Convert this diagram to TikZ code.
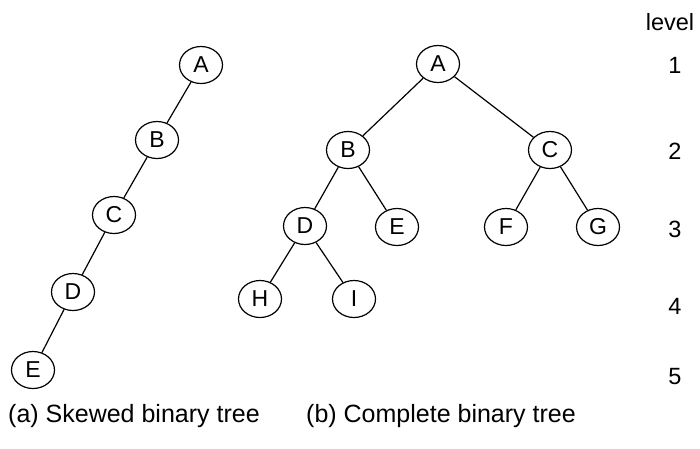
\documentclass[tikz,border=0pt]{standalone}
\usepackage{fontspec}
\setmainfont{Liberation Sans}
\usetikzlibrary{shapes.geometric}
\tikzset{
  tn/.style={ellipse, draw=black, line width=1.2pt, minimum width=43pt, minimum height=37pt, inner sep=0pt, font=\fontsize{23}{23}\selectfont},
  edge/.style={draw=black, line width=1.2pt},
  lvl/.style={font=\fontsize{23.5}{23.5}\selectfont, inner sep=0pt},
  captxt/.style={font=\fontsize{25}{25}\selectfont, inner sep=0pt, anchor=base west}
}
\begin{document}
\begin{tikzpicture}[x=1pt,y=-1pt]
\useasboundingbox (0,0) rectangle (700,448);
% skewed tree
\node[tn] (sa) at (201,65) {A};
\node[tn] (sb) at (157,140) {B};
\node[tn] (sc) at (114,215) {C};
\node[tn] (sd) at (73,292) {D};
\node[tn] (se) at (33,370) {E};
\draw[edge] (sa) -- (sb);
\draw[edge] (sb) -- (sc);
\draw[edge] (sc) -- (sd);
\draw[edge] (sd) -- (se);
% complete tree
\node[tn] (ca) at (438,64) {A};
\node[tn] (cb) at (348,150) {B};
\node[tn] (cc) at (550,150) {C};
\node[tn] (cd) at (305,226) {D};
\node[tn] (ce) at (397,227) {E};
\node[tn] (cf) at (506,227) {F};
\node[tn] (cg) at (598,227) {G};
\node[tn] (ch) at (260,299) {H};
\node[tn] (ci) at (354,299) {I};
\draw[edge] (ca) -- (cb);
\draw[edge] (ca) -- (cc);
\draw[edge] (cb) -- (cd);
\draw[edge] (cb) -- (ce);
\draw[edge] (cc) -- (cf);
\draw[edge] (cc) -- (cg);
\draw[edge] (cd) -- (ch);
\draw[edge] (cd) -- (ci);
% levels
\node[lvl] (lv) at (670,22) {level};
\node[lvl] (l1) at (675,65) {1};
\node[lvl] (l2) at (675,151) {2};
\node[lvl] (l3) at (675,229) {3};
\node[lvl] (l4) at (675,306) {4};
\node[lvl] (l5) at (675,377) {5};
% captions
\node[captxt] (capa) at (8,422) {(a) Skewed binary tree};
\node[captxt] (capb) at (306,422) {(b) Complete binary tree};
\end{tikzpicture}
\end{document}
